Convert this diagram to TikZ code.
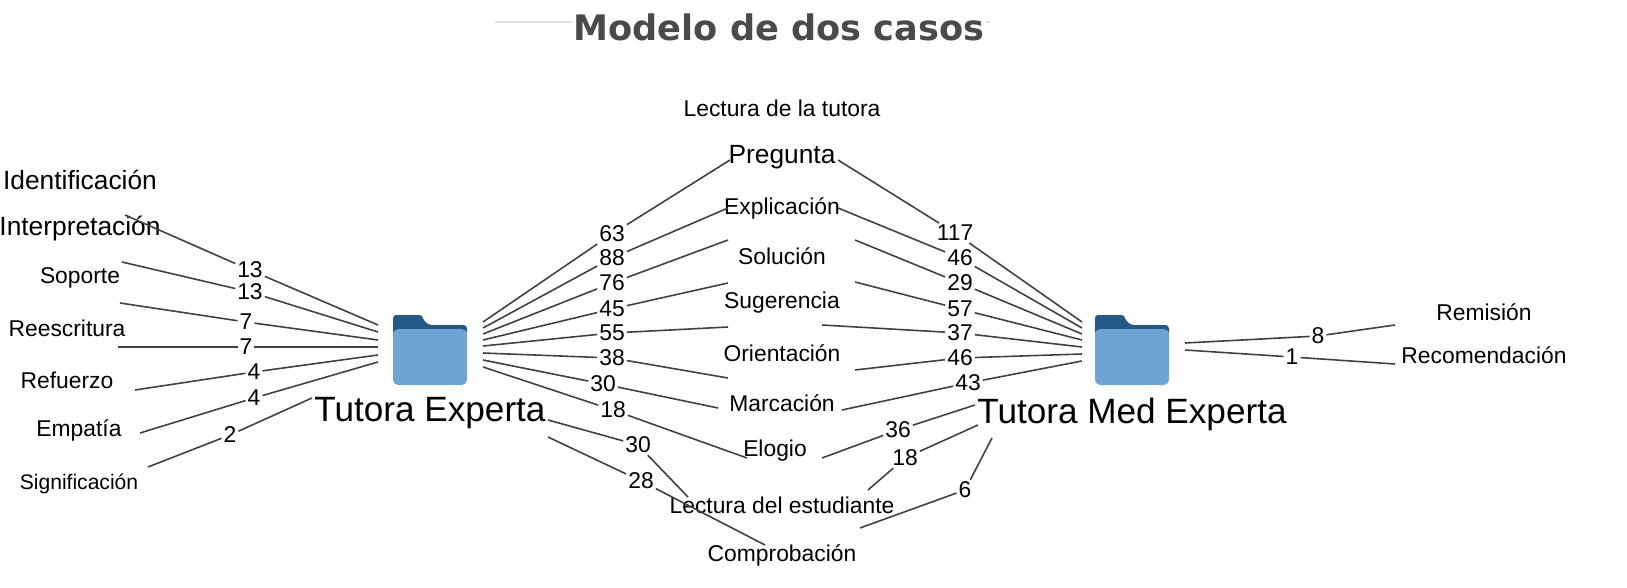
\documentclass[tikz,border=0pt]{standalone}
\usepackage{fontspec}
\setmainfont{Liberation Sans}
\newfontfamily\titlefont{DejaVu Sans}
\definecolor{fdark}{HTML}{245887}
\definecolor{flight}{HTML}{6FA3D2}
\definecolor{tgray}{HTML}{4A4A4A}
\tikzset{
  lab/.style={inner sep=0pt,font=\fontsize{13}{13}\selectfont},
  biglab/.style={inner sep=0pt,font=\fontsize{15}{15}\selectfont},
  num/.style={inner sep=1pt,font=\fontsize{13}{13}\selectfont},
  hub/.style={inner sep=0pt,font=\fontsize{20}{20}\selectfont},
  ln/.style={draw=black!75,line width=0.9pt},
  folder/.pic={
    \fill[fdark,rounded corners=2pt] (-37,-35) -- (-37,-22) -- (-7,-22) -- (-7,-35) -- cycle;
    \fill[fdark,rounded corners=2pt] (-37,-35) -- (-10,-35) -- (-2,-25) -- (37,-25) -- (37,-15) -- (-37,-15) -- cycle;
    \fill[flight,rounded corners=3pt] (-37,-21) rectangle (37,35);
  }
}
\begin{document}
\begin{tikzpicture}[x=0.02cm,y=-0.02cm]
\useasboundingbox (0,0) rectangle (1627,588);
% title
\draw[black!12,line width=0.8pt] (495,22) -- (990,22);
\node[font=\titlefont\bfseries\fontsize{20}{20}\selectfont,text=tgray,fill=white,inner sep=1pt] (title) at (779,27) {Modelo de dos casos};
% folders
\pic at (430,350) {folder};
\pic at (1132,350) {folder};
\node[hub] (TE) at (430,413) {Tutora Experta};
\node[hub] (TM) at (1132,414) {Tutora Med Experta};
% left labels
\node[biglab] (l1) at (80,180) {Identificación};
\node[biglab] (l2) at (80,229) {Interpretación};
\node[lab] (l3) at (80,278) {Soporte};
\node[lab] (l4) at (67,328) {Reescritura};
\node[lab] (l5) at (67,380) {Refuerzo};
\node[lab] (l6) at (79,430) {Empatía};
\node[lab,font=\fontsize{12}{12}\selectfont] (l7) at (79,484) {Significación};
% center labels
\node[lab] (lt) at (782,108) {Lectura de la tutora};
\node[biglab] (c1) at (782,157) {Pregunta};
\node[lab] (c2) at (782,208) {Explicación};
\node[lab] (c3) at (782,256) {Solución};
\node[lab] (c4) at (782,303) {Sugerencia};
\node[lab] (c5) at (782,353) {Orientación};
\node[lab] (c6) at (782,403) {Marcación};
\node[lab] (c7) at (775,451) {Elogio};
\node[lab] (c8) at (782,505) {Lectura del estudiante};
\node[lab] (c9) at (782,555) {Comprobación};
% right labels
\node[lab] (r1) at (1484,312) {Remisión};
\node[lab] (r2) at (1484,355) {Recomendación};
% left edges
\coordinate (ls1) at (125,215); \coordinate (le1) at (378,325);
\coordinate (ls2) at (122,262); \coordinate (le2) at (378,332);
\coordinate (ls3) at (120,303); \coordinate (le3) at (378,340);
\coordinate (ls4) at (118,347); \coordinate (le4) at (378,347);
\coordinate (ls5) at (135,390); \coordinate (le5) at (378,355);
\coordinate (ls6) at (140,433); \coordinate (le6) at (378,362);
\coordinate (ls7) at (148,467); \coordinate (le7) at (312,398);
\node[num] (n1) at (250,270) {13};
\node[num] (n2) at (250,292) {13};
\node[num] (n3) at (246,322) {7};
\node[num] (n4) at (246,347) {7};
\node[num] (n5) at (254,372) {4};
\node[num] (n6) at (254,398) {4};
\node[num] (n7) at (230,435) {2};
\foreach \i in {1,...,7}{\draw[ln] (ls\i) -- (n\i) -- (le\i);}
% center-left edges
\coordinate (a1) at (483,322); \coordinate (b1) at (730,160);
\coordinate (a2) at (483,328); \coordinate (b2) at (728,208);
\coordinate (a3) at (483,334); \coordinate (b3) at (728,240);
\coordinate (a4) at (483,340); \coordinate (b4) at (728,283);
\coordinate (a5) at (483,346); \coordinate (b5) at (728,327);
\coordinate (a6) at (483,353); \coordinate (b6) at (728,378);
\coordinate (a7) at (483,360); \coordinate (b7) at (718,408);
\coordinate (a8) at (483,367); \coordinate (b8) at (747,458);
\coordinate (a9) at (548,420); \coordinate (b9) at (688,497);
\coordinate (a10) at (548,437); \coordinate (b10) at (765,545);
\node[num] (m1) at (612,234) {63};
\node[num] (m2) at (612,258) {88};
\node[num] (m3) at (612,283) {76};
\node[num] (m4) at (612,309) {45};
\node[num] (m5) at (612,333) {55};
\node[num] (m6) at (612,358) {38};
\node[num] (m7) at (603,384) {30};
\node[num] (m8) at (613,410) {18};
\node[num] (m9) at (638,445) {30};
\node[num] (m10) at (641,481) {28};
\foreach \i in {1,...,10}{\draw[ln] (a\i) -- (m\i) -- (b\i);}
% center-right edges
\coordinate (p1) at (838,160); \coordinate (q1) at (1082,322);
\coordinate (p2) at (838,208); \coordinate (q2) at (1082,328);
\coordinate (p3) at (855,240); \coordinate (q3) at (1082,334);
\coordinate (p4) at (855,282); \coordinate (q4) at (1082,340);
\coordinate (p5) at (822,325); \coordinate (q5) at (1082,347);
\coordinate (p6) at (855,370); \coordinate (q6) at (1082,354);
\coordinate (p7) at (842,410); \coordinate (q7) at (1082,361);
\coordinate (p8) at (822,458); \coordinate (q8) at (975,405);
\coordinate (p9) at (868,490); \coordinate (q9) at (978,425);
\coordinate (p10) at (860,528); \coordinate (q10) at (992,438);
\node[num] (k1) at (955,233) {117};
\node[num] (k2) at (960,258) {46};
\node[num] (k3) at (960,283) {29};
\node[num] (k4) at (960,309) {57};
\node[num] (k5) at (960,333) {37};
\node[num] (k6) at (960,358) {46};
\node[num] (k7) at (968,383) {43};
\node[num] (k8) at (898,430) {36};
\node[num] (k9) at (905,458) {18};
\node[num] (k10) at (965,490) {6};
\foreach \i in {1,...,10}{\draw[ln] (p\i) -- (k\i) -- (q\i);}
% right edges
\coordinate (s1) at (1185,343); \coordinate (t1) at (1395,325);
\coordinate (s2) at (1185,350); \coordinate (t2) at (1395,364);
\node[num] (o1) at (1318,336) {8};
\node[num] (o2) at (1292,357) {1};
\foreach \i in {1,2}{\draw[ln] (s\i) -- (o\i) -- (t\i);}
\end{tikzpicture}
\end{document}
